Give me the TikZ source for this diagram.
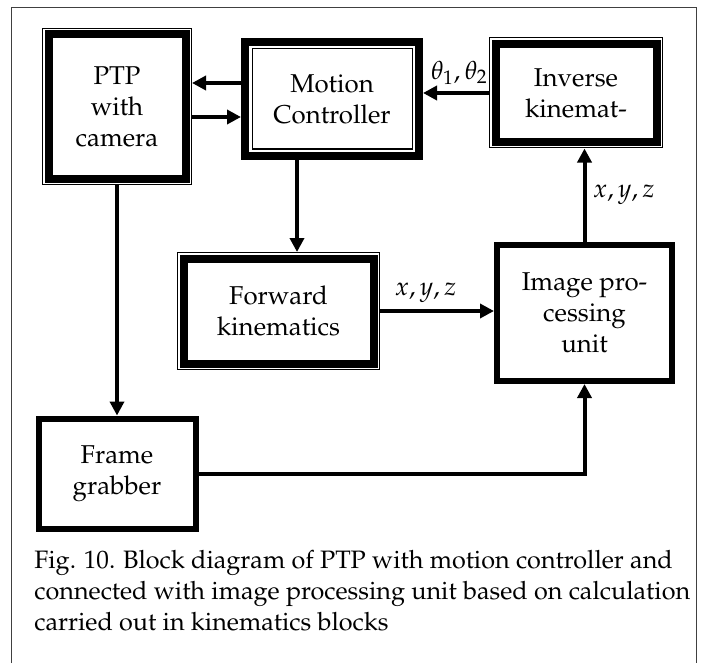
\documentclass[tikz,border=0pt]{standalone}
\usepackage[T1]{fontenc}
\usepackage{mathpazo}
\usetikzlibrary{positioning, calc, arrows.meta}

\begin{document}
\begin{tikzpicture}[x=0.5pt, y=-0.5pt,
    every node/.style={font=\fontsize{12.9}{15.5}\selectfont},
    block/.style={draw, align=center, inner sep=0pt},
    rimout/.style={block, line width=4pt, outer sep=3.25pt},
    rimin/.style={block, line width=4pt, outer sep=2pt},
    plainbox/.style={block, line width=3pt, outer sep=1.5pt},
    rim/.style={line width=0.5pt},
    flow/.style={line width=2pt, -{Triangle[length=7pt, width=7pt]}}]
  \useasboundingbox (0,0) rectangle (704,663);
  \draw[line width=0.5pt, black!75] (11,663) -- (11,8) -- (696,8) -- (696,663);

  % blocks
  \node[rimout, minimum width=68.5pt, minimum height=72pt] (ptp) at (117,106.5) {PTP\\with\\camera};
  \node[rimin, minimum width=87pt, minimum height=57pt] (mc) at (332,99) {Motion\\Controller};
  \node[rimout, minimum width=80.5pt, minimum height=49pt] (inv) at (576,93) {Inverse\\kinemat-};
  \node[rimout, minimum width=95pt, minimum height=52.5pt] (fk) at (278.5,311) {Forward\\kinematics};
  \node[plainbox, minimum width=87.5pt, minimum height=68pt] (ip) at (584.5,313) {Image pro-\\cessing\\unit};
  \node[plainbox, minimum width=78.5pt, minimum height=55pt] (fg) at (117,473.5) {Frame\\grabber};

  % thin rims
  \foreach \n in {ptp, inv, fk}
    \draw[rim] ([shift={(0.25pt,-0.25pt)}]\n.north west) rectangle ([shift={(-0.25pt,0.25pt)}]\n.south east);
  \draw[rim] ([shift={(5.5pt,-5.5pt)}]mc.north west) rectangle ([shift={(-5.5pt,5.5pt)}]mc.south east);

  % connections
  \draw[flow] ([yshift=8pt]mc.west) -- ([yshift=8pt]mc.west -| ptp.east);
  \draw[flow] ([yshift=-9pt]mc.west -| ptp.east) -- ([yshift=-9pt]mc.west);
  \draw[flow] (inv.west) -- (inv.west -| mc.east) node[pos=0.45, above] {$\theta_1,\theta_2$};
  \draw[flow] ([xshift=-17.5pt]mc.south) -- ([xshift=-17.5pt]mc.south |- fk.north);
  \draw[flow] (fk.east) -- (fk.east -| ip.west) node[pos=0.4, above] {$x,y,z$};
  \draw[flow] (ip.north) -- (ip.north |- inv.south) node[midway, right] {$x,y,z$};
  \draw[flow] (ptp.south) -- (ptp.south |- fg.north);
  \draw[flow] (fg.east) -| (ip.south);

  \node[anchor=north west, align=left, inner sep=0pt, font=\fontsize{12.6}{15.5}\selectfont] (cap) at (34,550)
    {Fig. 10. Block diagram of PTP with motion controller and\\
     connected with image processing unit based on calculation\\
     carried out in kinematics blocks};
\end{tikzpicture}
\end{document}
